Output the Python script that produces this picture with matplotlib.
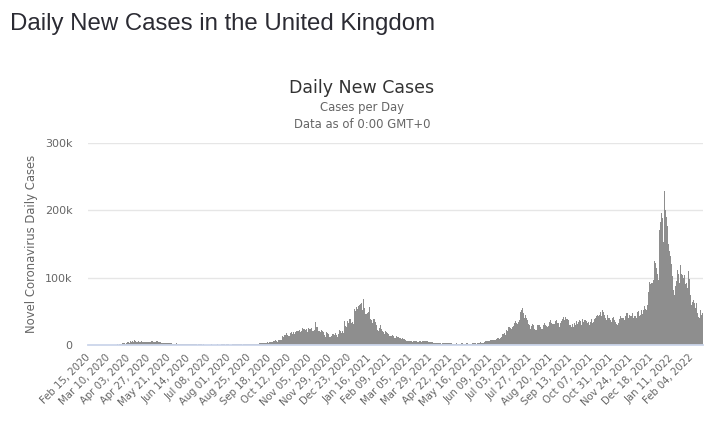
import matplotlib
matplotlib.use("Agg")
import matplotlib.pyplot as plt
import numpy as np
import pandas as pd

# Daily new cases (thousands), one list per month
feb_2020 = [0, 0, 0, 0, 0, 0, 0, 0, 0, 0, 0.001, 0.002, 0.003, 0.004, 0.003]
mar_2020 = [0.01, 0.01, 0.05, 0.03, 0.04, 0.05, 0.05, 0.07, 0.05, 0.05, 0.08, 0.13, 0.21, 0.24, 0.23,
            0.15, 0.41, 0.41, 0.68, 0.71, 0.97, 0.67, 0.97, 1.43, 1.45, 2.13, 2.89, 2.55, 2.43, 1.62, 3.01]
apr_2020 = [4.3, 4.2, 4.45, 3.7, 5.9, 3.8, 3.6, 5.5, 4.3, 7.4, 5.2, 4.3, 5.2, 4.6, 5.3,
            4.6, 4.8, 5.5, 5.8, 4.7, 4.3, 4.5, 4.6, 4.6, 4.9, 4.5, 4.3, 4.0, 4.1, 6.0]
may_2020 = [6.2, 4.8, 4.3, 4.3, 4.0, 6.1, 5.6, 4.6, 3.9, 3.9, 3.9, 3.4, 3.2, 3.4, 3.6,
            3.45, 3.5, 3.5, 2.7, 3.5, 2.6, 3.3, 2.96, 2.4, 1.6, 4.0, 2.0, 1.9, 2.1, 2.4, 1.9]
jun_2020 = [1.6, 1.5, 1.9, 1.8, 1.6, 1.6, 1.3, 1.2, 1.4, 1.0, 1.3, 1.5, 1.4, 1.2, 1.0,
            1.3, 1.1, 1.2, 1.3, 1.0, 1.0, 0.96, 0.87, 0.65, 1.1, 1.0, 0.89, 0.9, 0.8, 0.7]
jul_2020 = [0.83, 0.58, 0.54, 0.62, 0.52, 0.35, 0.58, 0.63, 0.63, 0.51, 0.82, 0.65, 0.53, 0.54, 0.54,
            0.64, 0.69, 0.83, 0.65, 0.73, 0.45, 0.56, 0.77, 0.77, 0.77, 0.75, 0.69, 0.58, 0.76, 0.85, 0.88]
aug_2020 = [0.74, 0.74, 0.74, 0.67, 0.95, 0.95, 0.87, 0.76, 1.06, 0.82, 0.88, 1.01, 1.44, 1.44, 1.01,
            1.04, 0.71, 0.81, 0.81, 1.18, 1.03, 1.29, 1.04, 0.85, 1.06, 1.08, 1.21, 1.52, 1.28, 1.72, 0.98]
sep_2020 = [1.3, 1.3, 1.7, 1.9, 1.8, 2.99, 2.9, 2.5, 2.7, 2.9, 3.5, 3.5, 3.3, 2.6, 3.1,
            3.9, 3.4, 4.3, 4.4, 3.9, 4.4, 4.9, 6.2, 6.6, 6.9, 6.0, 5.7, 4.0, 7.1, 7.1]
oct_2020 = [6.9, 6.97, 12.9, 13.5, 12.6, 14.5, 14.2, 17.5, 13.9, 15.2, 12.9, 13.97, 17.2, 19.7, 15.7,
            16.2, 18.8, 16.98, 18.8, 21.3, 26.7, 21.2, 20.5, 23.0, 19.8, 20.9, 20.9, 24.7, 23.1, 24.4, 21.9]
nov_2020 = [23.3, 18.9, 20.0, 25.2, 24.1, 23.3, 24.96, 20.6, 21.4, 20.4, 22.95, 33.5, 27.3, 26.9, 24.96,
            21.4, 20.05, 19.6, 22.9, 20.25, 19.9, 18.7, 15.5, 11.3, 18.6, 17.6, 16.0, 15.9, 12.2, 12.3]
dec_2020 = [13.4, 16.2, 14.9, 16.3, 15.5, 17.3, 14.7, 12.3, 16.6, 20.96, 21.67, 21.5, 18.4, 20.3, 18.5,
            25.2, 35.4, 28.5, 27.1, 35.9, 33.4, 36.8, 39.2, 39.0, 32.7, 34.7, 30.5, 41.4, 53.1, 50.0, 55.9]
jan_2021 = [53.3, 57.7, 54.99, 58.8, 60.9, 62.3, 52.6, 68.1, 59.9, 54.9, 46.2, 45.5, 47.5, 48.7, 55.8,
            41.3, 38.6, 37.5, 33.4, 38.9, 37.9, 40.3, 33.6, 30.0, 22.2, 20.1, 25.3, 28.7, 29.1, 23.3, 21.1]
feb_2021 = [18.6, 16.8, 19.2, 20.6, 19.1, 18.3, 15.8, 14.1, 12.4, 13.0, 13.5, 15.1, 13.3, 10.97,
            9.8, 10.6, 12.7, 12.1, 12.0, 10.4, 9.8, 10.6, 8.5, 9.9, 9.0, 8.5, 7.4, 6.0]
mar_2021 = [5.5, 6.4, 6.0, 6.6, 6.0, 6.0, 5.2, 4.7, 5.8, 5.9, 6.0, 6.6, 5.5, 4.6, 5.1,
            5.8, 5.8, 6.3, 4.8, 5.6, 5.3, 5.3, 5.4, 6.4, 6.4, 6.2, 3.9, 3.9, 4.7, 4.0, 4.1]
apr_2021 = [4.5, 3.4, 3.4, 2.3, 2.8, 2.4, 2.5, 3.0, 3.2, 2.6, 1.7, 3.6, 2.5, 2.5, 2.7,
            3.0, 2.6, 1.9, 2.5, 2.5, 2.4, 2.7, 2.7, 2.1, 1.7, 2.0, 1.9, 2.2, 2.3, 2.1]
may_2021 = [1.9, 1.6, 1.7, 1.9, 2.6, 2.5, 2.5, 2.05, 1.8, 1.98, 2.3, 2.7, 2.7, 2.2, 2.0,
            1.9, 2.0, 2.4, 2.7, 2.9, 2.8, 2.3, 1.98, 2.4, 2.5, 3.2, 3.5, 4.2, 3.2, 3.2, 3.2]
jun_2021 = [3.2, 4.3, 5.3, 6.2, 5.7, 5.3, 5.7, 6.05, 7.5, 7.4, 8.1, 7.7, 7.5, 7.7, 7.7,
            9.06, 11.0, 10.3, 10.3, 9.3, 10.6, 11.6, 16.1, 16.7, 15.8, 18.3, 14.9, 22.9, 20.5, 26.1]
jul_2021 = [27.99, 27.1, 24.9, 24.2, 27.3, 28.8, 32.5, 32.6, 35.7, 32.4, 31.8, 34.5, 36.7, 42.3, 48.6,
            51.9, 54.7, 48.2, 39.95, 46.6, 44.1, 39.9, 36.4, 31.8, 29.2, 24.95, 23.5, 27.7, 31.1, 29.6, 24.5]
aug_2021 = [26.8, 21.95, 21.7, 29.3, 30.2, 29.6, 27.4, 26.8, 23.5, 23.5, 29.6, 33.1, 32.7, 29.5, 28.4,
            26.85, 28.4, 33.9, 36.6, 32.1, 32.4, 31.9, 30.8, 30.8, 35.8, 38.3, 37.3, 32.4, 33.2, 26.5, 32.2]
sep_2021 = [35.7, 35.6, 38.2, 42.1, 37.0, 41.2, 37.5, 38.98, 38.1, 37.6, 29.5, 29.2, 30.8, 27.0, 30.6,
            26.9, 32.7, 29.6, 29.2, 36.1, 31.6, 34.5, 36.7, 35.6, 30.3, 31.6, 37.96, 34.5, 36.5, 36.5]
oct_2021 = [35.1, 30.3, 32.6, 33.9, 30.4, 33.9, 39.1, 39.0, 33.0, 34.6, 38.5, 40.2, 42.8, 45.1, 44.9,
            43.4, 45.1, 49.2, 43.7, 49.1, 52.0, 49.3, 44.99, 39.96, 36.6, 36.7, 43.9, 39.8, 39.8, 37.6, 34.9]
nov_2021 = [40.1, 33.9, 41.3, 37.3, 34.0, 30.7, 30.3, 32.3, 33.1, 39.3, 42.5, 40.4, 40.4, 36.5, 39.7,
            36.5, 42.5, 46.8, 46.9, 40.9, 40.0, 44.9, 42.5, 43.7, 47.2, 50.9, 39.6, 42.6, 42.6, 39.7]
dec_2021 = [48.4, 53.9, 50.6, 42.4, 44.0, 51.5, 45.7, 51.3, 50.9, 58.2, 54.1, 52.0, 59.6, 78.6, 88.4,
            93.0, 90.4, 92.0, 91.7, 96.0, 106.1, 125.0, 122.2, 114.0, 105.0, 97.0, 129.5, 171.0, 183.0, 196.0, 189.0]
jan_2022 = [153.0, 199.0, 228.0, 201.0, 190.0, 177.0, 150.0, 147.0, 140.0, 132.0, 120.0, 102.0, 82.0, 75.0, 70.0,
            87.0, 95.0, 112.0, 106.0, 92.0, 57.0, 119.0, 105.0, 104.0, 100.0, 104.0, 98.0, 91.0, 92.0, 85.0, 110.0]
feb_2022 = [98.0, 87.0, 75.0, 60.0, 64.0, 67.0, 62.0, 67.0, 55.0, 62.0, 48.0, 42.0, 40.0, 50.0, 52.0, 44.0, 47.0]

months = [feb_2020, mar_2020, apr_2020, may_2020, jun_2020, jul_2020, aug_2020, sep_2020, oct_2020,
          nov_2020, dec_2020, jan_2021, feb_2021, mar_2021, apr_2021, may_2021, jun_2021, jul_2021,
          aug_2021, sep_2021, oct_2021, nov_2021, dec_2021, jan_2022, feb_2022]
cases = np.array([v for m in months for v in m]) * 1000.0

start_date = "2020-02-15"
dates = pd.date_range(start_date, periods=len(cases), freq="D")
tick_step = 24
tick_idx = list(range(0, len(cases), tick_step))
tick_labels = [dates[i].strftime("%b %d, %Y") for i in tick_idx]

y_ticks = [0, 100000, 200000, 300000]
y_tick_labels = ["0", "100k", "200k", "300k"]

W, H = 718, 425
fig = plt.figure(figsize=(W / 100, H / 100), dpi=100)
fig.patch.set_facecolor("white")

ax = fig.add_axes([88 / W, 80 / H, 615 / W, 202 / H])
x = np.arange(len(cases))
ax.bar(x, cases, width=1.0, color="#8e8e8e", linewidth=0, zorder=2)
ax.set_xlim(-0.5, len(cases) - 0.5)
ax.set_ylim(0, 300000)

ax.set_yticks(y_ticks)
ax.set_yticklabels(y_tick_labels, family="DejaVu Sans")
ax.yaxis.grid(True, color="#e6e6e6", linewidth=1.0, zorder=0)
ax.set_axisbelow(True)
for s in ["top", "right", "left"]:
    ax.spines[s].set_visible(False)
ax.spines["bottom"].set_color("#ccd6eb")
ax.spines["bottom"].set_linewidth(1.3)
ax.spines["bottom"].set_zorder(5)
ax.tick_params(axis="y", length=0, pad=11, labelcolor="#666666", labelsize=8)

ax.set_xticks(tick_idx)
ax.set_xticklabels(tick_labels, rotation=45, ha="right", va="center",
                   rotation_mode="anchor", fontsize=7.3, color="#666666", family="DejaVu Sans")
ax.tick_params(axis="x", length=0, pad=8)

fig.text(32 / W, 1 - 244 / H, "Novel Coronavirus Daily Cases", rotation=90,
         ha="center", va="center", fontsize=8.4, color="#666666", family="DejaVu Sans")

fig.text(10 / W, 1 - 24 / H, "Daily New Cases in the United Kingdom", ha="left", va="center",
         fontsize=17.3, color="#2b2b33", family="Liberation Sans")
fig.text(362 / W, 1 - 88 / H, "Daily New Cases", ha="center", va="center",
         fontsize=12.5, color="#333333", family="DejaVu Sans")
fig.text(362 / W, 1 - 108 / H, "Cases per Day", ha="center", va="center",
         fontsize=8.4, color="#666666", family="DejaVu Sans")
fig.text(362 / W, 1 - 124 / H, "Data as of 0:00 GMT+0", ha="center", va="center",
         fontsize=8.4, color="#666666", family="DejaVu Sans")

fig.savefig("out.png", dpi=100, facecolor="white")
